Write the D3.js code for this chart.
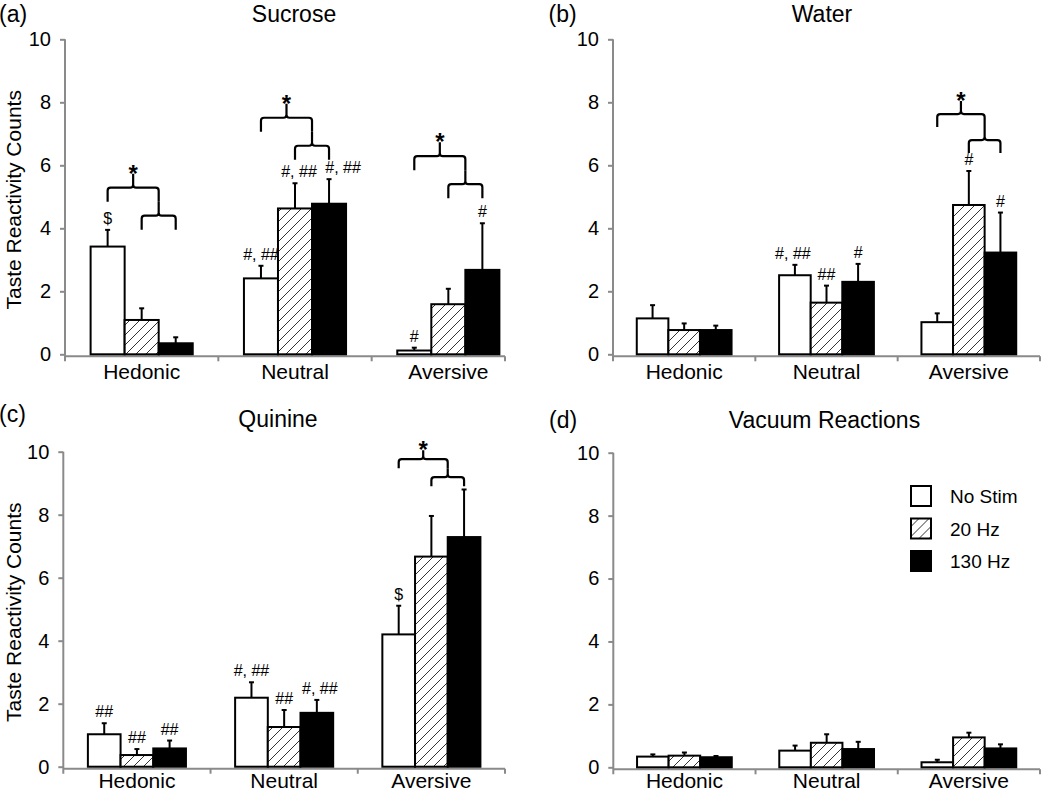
<!DOCTYPE html>
<html><head><meta charset="utf-8">
<script src="https://cdn.jsdelivr.net/npm/d3@7"></script>
<style>
body{margin:0;background:#fff}
svg{display:block}
text{font-family:"Liberation Sans",Arial,Helvetica,sans-serif;fill:#000}
</style>
</head><body>
<svg id="chart" width="1050" height="793"></svg>
<script>
// ---------- data ----------
const categories = ["Hedonic", "Neutral", "Aversive"];
const series = ["No Stim", "20 Hz", "130 Hz"];
const panelTitles = ["Sucrose", "Water", "Quinine", "Vacuum Reactions"];
const panelLetters = ["(a)", "(b)", "(c)", "(d)"];
const yTicks = [0, 2, 4, 6, 8, 10];
const yLabel = "Taste Reactivity Counts";

// means [category][series]
const sucroseMean = [[3.42, 1.09, 0.35], [2.41, 4.63, 4.78], [0.12, 1.59, 2.68]];
const sucroseSem  = [[0.53, 0.37, 0.19], [0.40, 0.80, 0.78], [0.09, 0.49, 1.48]];
const waterMean   = [[1.14, 0.77, 0.77], [2.51, 1.64, 2.30], [1.02, 4.74, 3.23]];
const waterSem    = [[0.42, 0.21, 0.14], [0.33, 0.54, 0.57], [0.28, 1.08, 1.27]];
const quinineMean = [[1.03, 0.37, 0.58], [2.19, 1.26, 1.71], [4.20, 6.67, 7.29]];
const quinineSem  = [[0.35, 0.19, 0.25], [0.49, 0.54, 0.41], [0.91, 1.29, 1.51]];
const vacuumMean  = [[0.34, 0.37, 0.32], [0.53, 0.78, 0.58], [0.16, 0.95, 0.60]];
const vacuumSem   = [[0.07, 0.10, 0.04], [0.16, 0.27, 0.23], [0.08, 0.15, 0.13]];

// significance marks above bars
const sucroseMarks = [["$", "", ""], ["#, ##", "#, ##", "#, ##"], ["#", "", "#"]];
const waterMarks   = [["", "", ""], ["#, ##", "##", "#"], ["", "#", "#"]];
const quinineMarks = [["##", "##", "##"], ["#, ##", "##", "#, ##"], ["$", "", ""]];
const vacuumMarks  = [["", "", ""], ["", "", ""], ["", "", ""]];

// level (in counts) of the lower bracket for the "*" comparison, per category
const sucroseBrace = [4.40, 6.62, 5.40];
const waterBrace   = [null, null, 6.80];
const quinineBrace = [null, null, 9.19];
const vacuumBrace  = [null, null, null];

const means = [sucroseMean, waterMean, quinineMean, vacuumMean];
const sems = [sucroseSem, waterSem, quinineSem, vacuumSem];
const marks = [sucroseMarks, waterMarks, quinineMarks, vacuumMarks];
const braces = [sucroseBrace, waterBrace, quinineBrace, vacuumBrace];

// ---------- layout ----------
const layout = [
  {x0: 65, x1: 525, axisEnd: 505, top: 39.3, bottom: 354.3, titleX: 294, titleY: 21.5, letterX: -1, letterY: 21.5, showYLabel: true, braceDepth: 14},
  {x0: 613, x1: 1040, axisEnd: 1040, top: 39.3, bottom: 354.3, titleX: 822, titleY: 21.5, letterX: 548.5, letterY: 21.5, showYLabel: false, braceDepth: 13},
  {x0: 63.3, x1: 505, axisEnd: 505, top: 451.7, bottom: 766.7, titleX: 278, titleY: 427, letterX: -1, letterY: 422, showYLabel: true, braceDepth: 9},
  {x0: 613.3, x1: 1040, axisEnd: 1040, top: 452.7, bottom: 767.3, titleX: 824.5, titleY: 428, letterX: 549, letterY: 428, showYLabel: false, braceDepth: 10}
];
// horizontal nudges of crowded significance marks [panel][category][series]
const markNudge = [
  [[0, 0, 0], [0, 4, 14], [0, 0, 0]],
  [[0, 0, 0], [-2, 0, 0], [0, 0, 0]],
  [[0, 0, 0], [0, 0, 3], [0, 0, 0]],
  [[0, 0, 0], [0, 0, 0], [0, 0, 0]]
];
const axisColor = "#8a8a8a";
const H = 793;

const svg = d3.select("#chart");
const defs = svg.append("defs");
const pat = defs.append("pattern").attr("id", "hatch").attr("patternUnits", "userSpaceOnUse")
  .attr("width", 10).attr("height", 10);
pat.append("rect").attr("width", 10).attr("height", 10).attr("fill", "#fff");
pat.append("path").attr("d", "M-1,11 L11,-1 M-6,6 L6,-6 M4,16 L16,4")
  .attr("stroke", "#333").attr("stroke-width", 1);

const fills = ["#fff", "url(#hatch)", "#000"];

function bracePath(xa, xb, yH, d, r) {
  const xm = (xa + xb) / 2;
  return `M${xa},${yH + d} V${yH + r} Q${xa},${yH} ${xa + r},${yH} H${xm - r} Q${xm},${yH} ${xm},${yH - r} V${yH - d}` +
         ` M${xm},${yH - r} Q${xm},${yH} ${xm + r},${yH} H${xb - r} Q${xb},${yH} ${xb},${yH + r} V${yH + d}`;
}

layout.forEach((L, pi) => {
  const g = svg.append("g");
  const y = d3.scaleLinear().domain([0, 10]).range([L.bottom, L.top]);
  const x = d3.scaleBand().domain(categories).range([L.x0, L.x1]).paddingInner(0.334).paddingOuter(0.167);
  const xs = d3.scaleBand().domain(series).range([0, x.bandwidth()]);
  const base = L.bottom + 2;

  // y axis
  const ya = g.append("g").attr("transform", `translate(${L.x0},0)`)
    .call(d3.axisLeft(y).tickValues(yTicks).tickSize(5).tickSizeOuter(0).tickPadding(9).tickFormat(d3.format("d")));
  ya.select(".domain").remove();
  ya.selectAll(".tick line").attr("stroke", axisColor).attr("stroke-width", 2);
  ya.selectAll(".tick text").style("font-size", "20px").attr("font-family", null).attr("fill", "#000");
  g.append("line").attr("x1", L.x0).attr("x2", L.x0).attr("y1", L.top).attr("y2", base + 5)
    .attr("stroke", axisColor).attr("stroke-width", 2);

  // x axis
  g.append("line").attr("x1", L.x0).attr("x2", L.axisEnd).attr("y1", base).attr("y2", base)
    .attr("stroke", axisColor).attr("stroke-width", 2);
  const tickXs = [x.step(), 2 * x.step()].map(v => L.x0 + v).concat([L.axisEnd]);
  g.selectAll(".xt").data(tickXs).enter().append("line")
    .attr("x1", d => d).attr("x2", d => d).attr("y1", base).attr("y2", base + 5)
    .attr("stroke", axisColor).attr("stroke-width", 2);
  g.selectAll(".xl").data(categories).enter().append("text")
    .attr("x", d => x(d) + x.bandwidth() / 2).attr("y", Math.min(base + 23, H - 5))
    .attr("text-anchor", "middle").style("font-size", "21px").text(d => d);

  // bars
  const rows = [];
  categories.forEach((c, ci) => series.forEach((s, si) => {
    rows.push({c, s, ci, si, v: means[pi][ci][si], e: sems[pi][ci][si], m: marks[pi][ci][si]});
  }));
  const cx = d => x(d.c) + xs(d.s) + xs.bandwidth() / 2;

  g.selectAll(".bar").data(rows).enter().append("rect")
    .attr("x", d => x(d.c) + xs(d.s)).attr("width", xs.bandwidth())
    .attr("y", d => y(d.v)).attr("height", d => y(0) - y(d.v))
    .attr("fill", d => fills[d.si]).attr("stroke", "#000").attr("stroke-width", 2);

  // error bars
  g.selectAll(".eb").data(rows).enter().append("line")
    .attr("x1", cx).attr("x2", cx).attr("y1", d => y(d.v)).attr("y2", d => y(d.v + d.e))
    .attr("stroke", "#000").attr("stroke-width", 2);
  g.selectAll(".ec").data(rows).enter().append("line")
    .attr("x1", d => cx(d) - 2.5).attr("x2", d => cx(d) + 2.5)
    .attr("y1", d => y(d.v + d.e)).attr("y2", d => y(d.v + d.e))
    .attr("stroke", "#000").attr("stroke-width", 2);

  // marks
  g.selectAll(".mk").data(rows.filter(d => d.m)).enter().append("text")
    .attr("x", d => cx(d) + markNudge[pi][d.ci][d.si]).attr("y", d => y(d.v + d.e) - 6)
    .attr("text-anchor", "middle").style("font-size", "16px").text(d => d.m);

  // braces
  categories.forEach((c, ci) => {
    const lvl = braces[pi][ci];
    if (lvl == null) return;
    const d = L.braceDepth;
    const c0 = x(c) + xs(series[0]) + xs.bandwidth() / 2;
    const c1 = x(c) + xs(series[1]) + xs.bandwidth() / 2;
    const c2 = x(c) + xs(series[2]) + xs.bandwidth() / 2;
    const ySmall = y(lvl);
    g.append("path").attr("d", bracePath(c1, c2, ySmall, d, 3))
      .attr("fill", "none").attr("stroke", "#000").attr("stroke-width", 2.2);
    const yBig = ySmall - 2 * d;
    const xr = (c1 + c2) / 2;
    g.append("path").attr("d", bracePath(c0, xr, yBig, d, 3))
      .attr("fill", "none").attr("stroke", "#000").attr("stroke-width", 2.2);
    g.append("text").attr("x", (c0 + xr) / 2).attr("y", yBig - d + 8)
      .attr("text-anchor", "middle").style("font-size", "24px").style("font-weight", "bold").text("*");
  });

  // titles
  g.append("text").attr("x", L.titleX).attr("y", L.titleY).attr("text-anchor", "middle")
    .style("font-size", "23px").text(panelTitles[pi]);
  g.append("text").attr("x", L.letterX).attr("y", L.letterY)
    .style("font-size", "23px").text(panelLetters[pi]);

  if (L.showYLabel) {
    g.append("text").attr("transform", `translate(20.5,${(L.top + L.bottom) / 2 + 3}) rotate(-90)`)
      .attr("text-anchor", "middle").style("font-size", "21px").text(yLabel);
  }

  // legend in panel d
  if (pi === 3) {
    const lg = g.append("g").selectAll("g").data(series).enter().append("g")
      .attr("transform", (d, i) => `translate(910,${485 + i * 32.5})`);
    lg.append("rect").attr("x", 1).attr("y", 1).attr("width", 20).attr("height", 20)
      .attr("fill", (d, i) => fills[i]).attr("stroke", "#000").attr("stroke-width", 2);
    lg.append("text").attr("x", 40).attr("y", 18).style("font-size", "19px").text(d => d);
  }
});
</script>
</body></html>
